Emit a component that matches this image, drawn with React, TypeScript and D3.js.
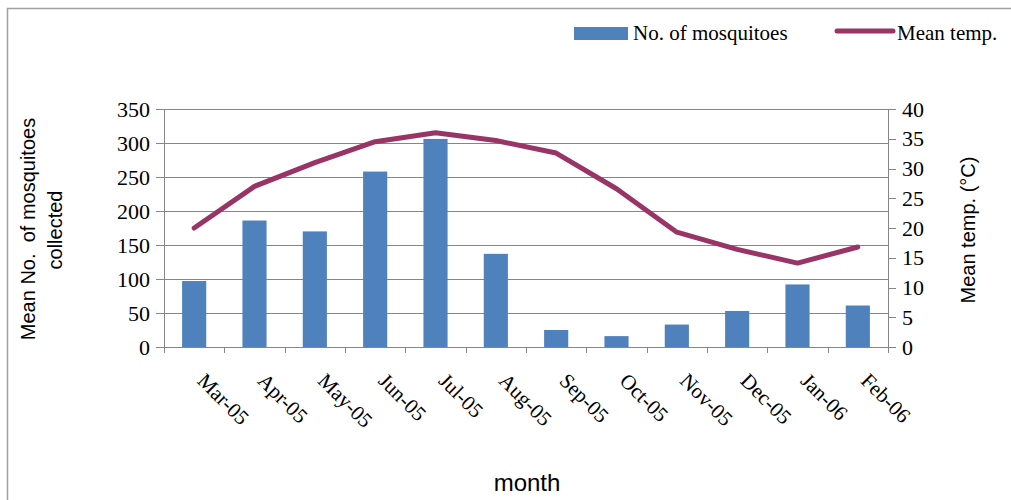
import React from "react";
import * as d3 from "d3";

// chart data
const months = ["Mar-05", "Apr-05", "May-05", "Jun-05", "Jul-05", "Aug-05", "Sep-05", "Oct-05", "Nov-05", "Dec-05", "Jan-06", "Feb-06"];
const mosquitoes = [97, 186, 170, 258, 306, 137, 25, 16, 33, 53, 92, 61];
const meanTemp = [20, 27, 31, 34.5, 36, 34.7, 32.6, 26.6, 19.3, 16.4, 14.1, 16.8];
const leftTicks = [0, 50, 100, 150, 200, 250, 300, 350];
const rightTicks = [0, 5, 10, 15, 20, 25, 30, 35, 40];

const W = 1011;
const H = 500;
const left = 164;
const right = 888;
const top = 109;
const bottom = 347;

const serif = "'Liberation Serif', 'Times New Roman', serif";
const sans = "'Liberation Sans', Arial, sans-serif";
const grid = "#868686";
const barColor = "#4F81BD";
const lineColor = "#983466";

export default function App() {
  const x = d3.scaleBand<string>().domain(months).range([left, right]).paddingInner(0.6).paddingOuter(0.3);
  const band = d3.scaleBand<string>().domain(months).range([left, right]);
  const yL = d3.scaleLinear().domain([0, 350]).range([bottom, top]);
  const yR = d3.scaleLinear().domain([0, 40]).range([bottom, top]);

  const line = d3
    .line<number>()
    .x((_, i) => band(months[i])! + band.bandwidth() / 2)
    .y((d) => yR(d));

  return (
    <div style={{ position: "absolute", left: 0, top: 0 }}>
      <svg width={W} height={H} style={{ display: "block" }}>
        <rect x={0} y={0} width={W} height={H} fill="#fff" />
        <rect x={7.5} y={8.5} width={W + 10} height={H + 10} fill="none" stroke="#a0a0a0" strokeWidth={1.5} />

        {/* gridlines */}
        {leftTicks.slice(1).map((t) => (
          <line key={t} x1={left} x2={right} y1={Math.round(yL(t)) + 0.5} y2={Math.round(yL(t)) + 0.5} stroke={grid} strokeWidth={1} />
        ))}

        {/* bars */}
        {mosquitoes.map((v, i) => (
          <rect key={months[i]} x={x(months[i])} y={yL(v)} width={x.bandwidth()} height={bottom - yL(v)} fill={barColor} />
        ))}

        {/* temperature line */}
        <path d={line(meanTemp) || ""} fill="none" stroke={lineColor} strokeWidth={5} strokeLinejoin="round" strokeLinecap="round" />

        {/* left axis */}
        <line x1={left + 0.5} x2={left + 0.5} y1={top} y2={bottom + 6} stroke={grid} />
        {leftTicks.map((t) => (
          <g key={t}>
            <line x1={left - 8} x2={left} y1={Math.round(yL(t)) + 0.5} y2={Math.round(yL(t)) + 0.5} stroke={grid} />
            <text x={left - 14} y={yL(t)} dy="0.35em" textAnchor="end" fontFamily={serif} fontSize={22} fill="#000">
              {t}
            </text>
          </g>
        ))}

        {/* right axis */}
        <line x1={right + 0.5} x2={right + 0.5} y1={top} y2={bottom + 6} stroke={grid} />
        {rightTicks.map((t) => (
          <g key={t}>
            <line x1={right} x2={right + 8} y1={Math.round(yR(t)) + 0.5} y2={Math.round(yR(t)) + 0.5} stroke={grid} />
            <text x={right + 14} y={yR(t)} dy="0.35em" textAnchor="start" fontFamily={serif} fontSize={22} fill="#000">
              {t}
            </text>
          </g>
        ))}

        {/* bottom axis */}
        <line x1={left} x2={right} y1={bottom + 0.5} y2={bottom + 0.5} stroke={grid} />
        {months.map((m) => (
          <line key={m} x1={Math.round(band(m)!) + 0.5} x2={Math.round(band(m)!) + 0.5} y1={bottom} y2={bottom + 6} stroke={grid} />
        ))}
        {months.map((m) => {
          const cx = band(m)! + band.bandwidth() / 2;
          return (
            <text key={m} transform={`translate(${cx + 2},${bottom + 35}) rotate(45)`} textAnchor="start" fontFamily={serif} fontSize={21} fill="#000">
              {m}
            </text>
          );
        })}

        {/* axis titles */}
        <text transform={`translate(35,229) rotate(-90)`} textAnchor="middle" fontFamily={sans} fontSize={20} fill="#000" xmlSpace="preserve">
          {"Mean No.  of mosquitoes"}
        </text>
        <text transform={`translate(62,230) rotate(-90)`} textAnchor="middle" fontFamily={sans} fontSize={20} fill="#000">
          collected
        </text>
        <text transform={`translate(975,230) rotate(-90)`} textAnchor="middle" fontFamily={sans} fontSize={20} fill="#000">
          Mean temp. (°C)
        </text>
        <text x={527} y={491} textAnchor="middle" fontFamily={sans} fontSize={24} fill="#000">
          month
        </text>

        {/* legend */}
        <rect x={574} y={27} width={54} height={13} fill={barColor} />
        <text x={633} y={40} fontFamily={serif} fontSize={21} fill="#000">
          No. of mosquitoes
        </text>
        <line x1={837} x2={893} y1={31} y2={31} stroke={lineColor} strokeWidth={5} strokeLinecap="round" />
        <text x={897} y={40} fontFamily={serif} fontSize={21} fill="#000">
          Mean temp.
        </text>
      </svg>
    </div>
  );
}
